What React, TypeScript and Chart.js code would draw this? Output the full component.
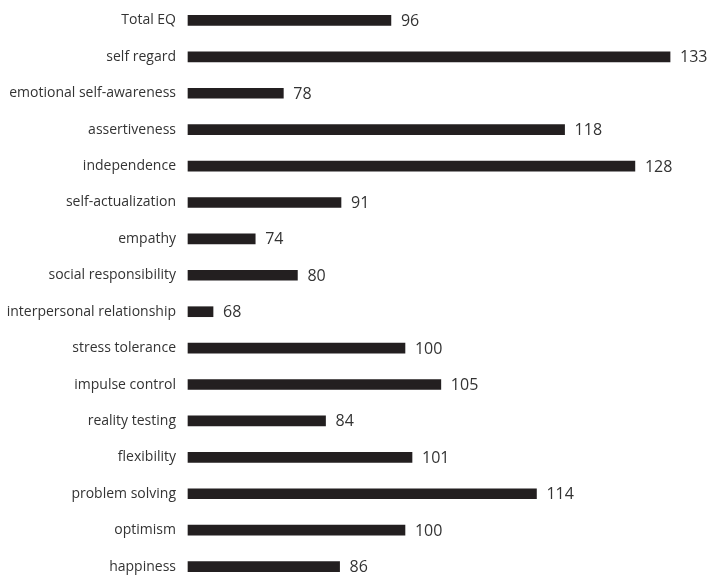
import React, { useEffect, useRef } from "react";
import { Chart, registerables } from "chart.js";

Chart.register(...registerables);

const categories = [
  "Total EQ",
  "self regard",
  "emotional self-awareness",
  "assertiveness",
  "independence",
  "self-actualization",
  "empathy",
  "social responsibility",
  "interpersonal relationship",
  "stress tolerance",
  "impulse control",
  "reality testing",
  "flexibility",
  "problem solving",
  "optimism",
  "happiness",
];

// Numbers printed next to the bars
const scoreLabels = [96, 133, 78, 118, 128, 91, 74, 80, 68, 100, 105, 84, 101, 114, 100, 86];

// Bar lengths (on the same score scale)
const barLengths = [93.3, 133, 78, 118, 128, 86.2, 74, 80, 68, 95.3, 100.4, 84, 96.3, 114, 95.3, 86];

const axisMin = 64.44;
const axisMax = 138;

const valueLabelPlugin = {
  id: "valueLabels",
  afterDatasetsDraw(chart: any) {
    const ctx = chart.ctx;
    const meta = chart.getDatasetMeta(0);
    ctx.save();
    ctx.font = '16px "Open Sans"';
    ctx.fillStyle = "#333333";
    ctx.textAlign = "left";
    ctx.textBaseline = "alphabetic";
    meta.data.forEach((bar: any, i: number) => {
      ctx.fillText(String(scoreLabels[i]), bar.x + 10, bar.y + 5.5);
    });
    ctx.restore();
  },
};

export default function App() {
  const canvasRef = useRef<HTMLCanvasElement | null>(null);

  useEffect(() => {
    if (!canvasRef.current) return;
    const chart = new Chart(canvasRef.current, {
      type: "bar",
      data: {
        labels: categories,
        datasets: [
          {
            data: barLengths,
            base: axisMin,
            backgroundColor: "#231f20",
            borderWidth: 0,
            barThickness: 10,
            clip: false as any,
          } as any,
        ],
      },
      options: {
        indexAxis: "y",
        responsive: true,
        maintainAspectRatio: false,
        animation: false,
        layout: { padding: { left: 0, right: 5.8, top: 19, bottom: 9.5 } },
        plugins: {
          legend: { display: false },
          tooltip: { enabled: false },
        },
        scales: {
          x: {
            type: "linear",
            display: false,
            min: axisMin,
            max: axisMax,
          },
          y: {
            type: "category",
            offset: false,
            grid: { display: false, drawTicks: false },
            border: { display: false },
            ticks: {
              color: "#333333",
              font: { family: '"Open Sans"', size: 14 },
              padding: 12,
              autoSkip: false,
            },
            afterFit: (scale: any) => {
              scale.width = 188;
            },
          },
        },
      },
      plugins: [valueLabelPlugin],
    });
    return () => chart.destroy();
  }, []);

  return (
    <div style={{ position: "fixed", left: 0, top: 0, width: 711, height: 587, background: "#ffffff" }}>
      <canvas ref={canvasRef} style={{ display: "block" }} />
    </div>
  );
}
